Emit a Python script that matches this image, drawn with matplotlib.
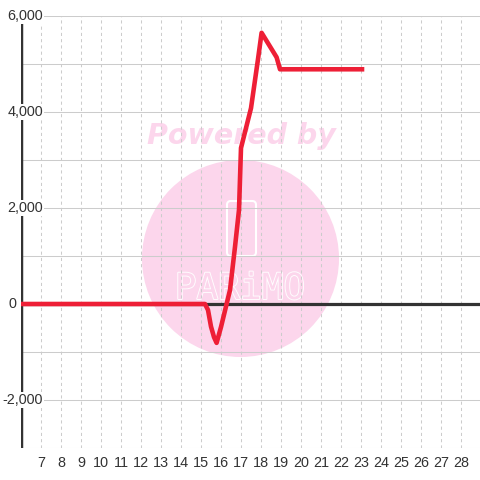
import matplotlib.pyplot as plt
import matplotlib.patheffects as pe
from matplotlib.patches import Circle, FancyBboxPatch
from matplotlib.transforms import blended_transform_factory

# values
x_vals = [6, 15.2, 15.35, 15.5, 15.65, 15.78, 16.0, 16.28, 16.45, 16.7, 16.9,
          17.0, 17.5, 17.85, 18.03, 18.78, 18.95, 23.05]
y_vals = [0, 0, -125, -470, -690, -810, -480, 0, 290, 1190, 1960,
          3250, 4080, 5100, 5650, 5140, 4890, 4890]

x_ticks = list(range(7, 29))
y_ticks = [-2000, 0, 2000, 4000, 6000]
y_grid = list(range(-3000, 6001, 1000))

plt.rcParams['font.family'] = ['Liberation Sans', 'DejaVu Sans']

fig = plt.figure(figsize=(4.8, 4.8), dpi=100)
ax = fig.add_axes([21 / 480, 32 / 480, 459 / 480, 432 / 480])
ax.set_xlim(6, 28.95)
ax.set_ylim(-3000, 6000)
for s in ax.spines.values():
    s.set_visible(False)

# watermark
pink = '#fcd6ec'
ax.add_patch(Circle((240.5 / 480, (480 - 258.5) / 480), 98.5 / 480,
                    transform=fig.transFigure, facecolor=pink, edgecolor='none', zorder=0.5))
ax.add_patch(FancyBboxPatch((227 / 480, (480 - 256) / 480), 29 / 480, 55 / 480,
                            boxstyle='round,pad=0,rounding_size=0.008',
                            transform=fig.transFigure, facecolor='none',
                            edgecolor='white', lw=1.5, zorder=0.6))
ax.text(240 / 480, (480 - 289) / 480, 'PARiMO', transform=fig.transFigure,
        ha='center', va='center', fontsize=26, family='DejaVu Sans Mono',
        color=pink, zorder=0.6,
        path_effects=[pe.withStroke(linewidth=1.3, foreground='white')])
ax.text(17.0, 3500, 'Powered by', ha='center', va='center', fontsize=20.5,
        family='DejaVu Sans', weight='bold', style='italic', color=pink, zorder=0.6)

# grid
for v in y_grid:
    ax.axhline(v, color='#cccccc', lw=0.75, zorder=1)
for v in x_ticks:
    ax.axvline(v, color='#cccccc', lw=0.75, ls=(0, (3, 3)), zorder=1)

ax.axvline(6, color='#333333', lw=2.5, zorder=2)
ax.axhline(0, color='#333333', lw=2.3, zorder=2)

ax.plot(x_vals, y_vals, color='#ee1f36', lw=3.3, solid_joinstyle='round', zorder=4)

ax.set_xticks(x_ticks)
ax.tick_params(axis='x', length=0, pad=6, labelsize=10.4, labelcolor='#333333')
ax.set_yticks([])

trans = blended_transform_factory(ax.transAxes, ax.transData)
for v in y_ticks:
    xpos = -5 / 459 if v == 0 else 22 / 459
    ax.text(xpos, v, f'{v:,}', transform=trans, ha='right', va='center',
            fontsize=10.4, color='#333333', zorder=3,
            bbox=dict(facecolor='white', edgecolor='none', pad=1.0))

fig.savefig('out.png', dpi=100)
